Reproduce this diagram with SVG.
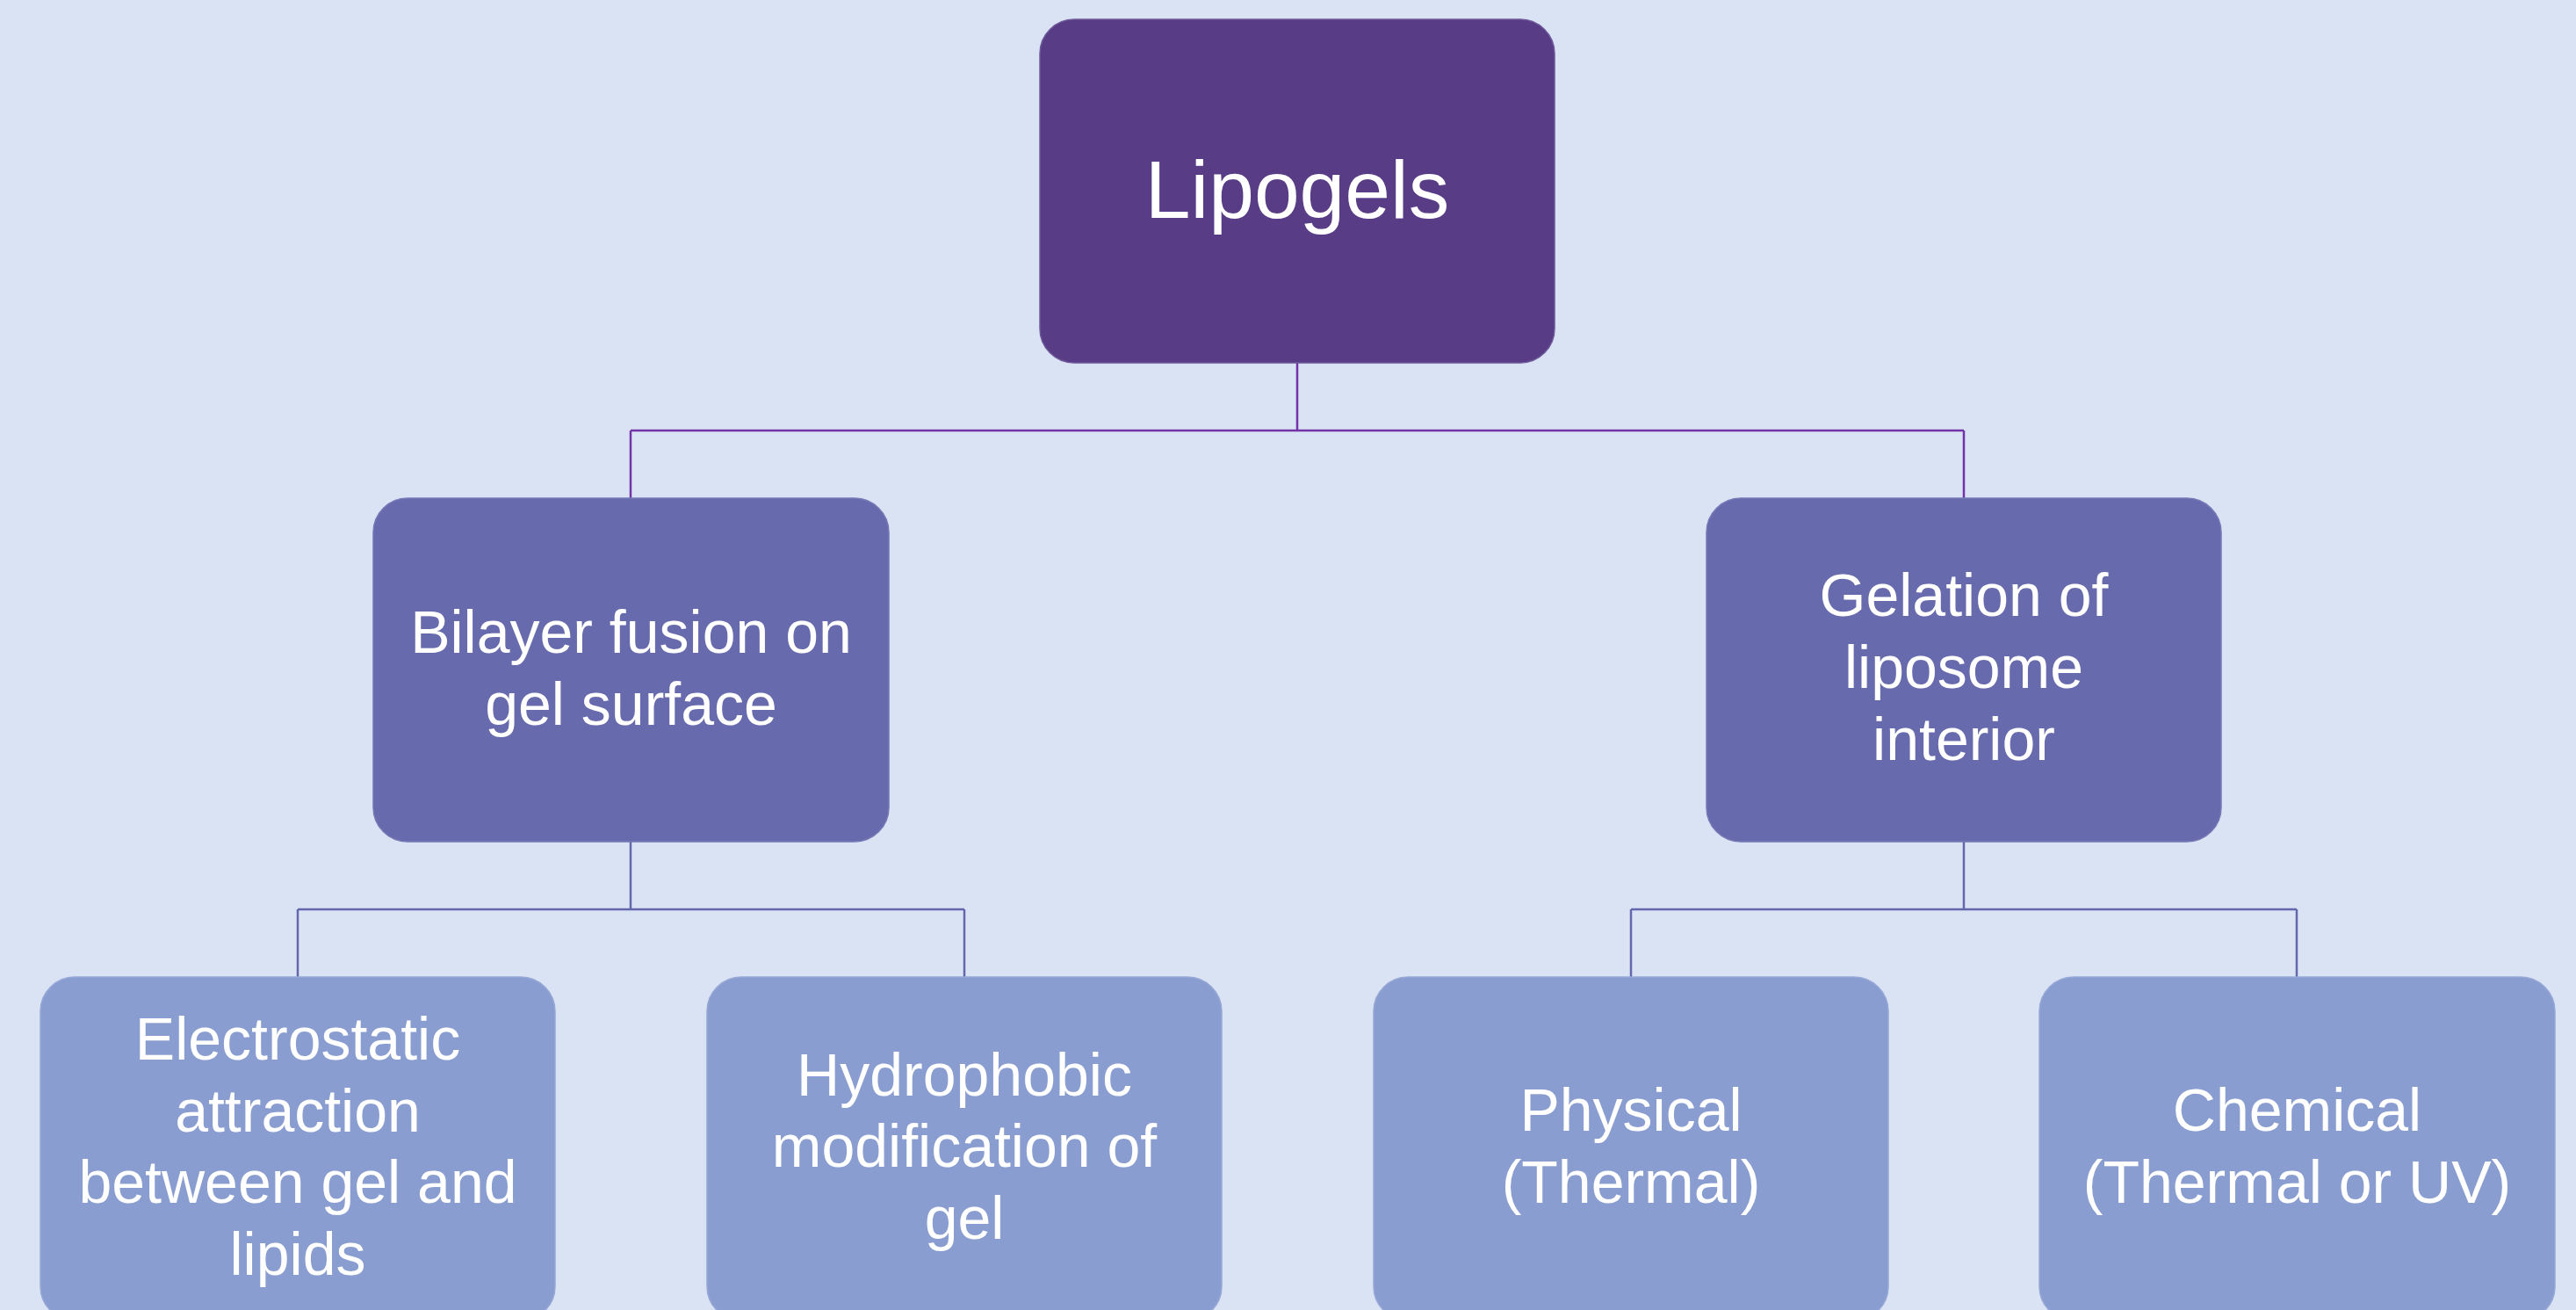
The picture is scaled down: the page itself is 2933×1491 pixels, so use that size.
<svg xmlns="http://www.w3.org/2000/svg" width="2933" height="1491" viewBox="0 0 2933 1491">
<style>
.bg{fill:#DAE3F3}
.n1{fill:#583C86;stroke:#6E5A9A;stroke-width:1.5}
.n2{fill:#676AAC;stroke:#7679B6;stroke-width:1.5}
.n3{fill:#8A9DD0;stroke:#97A8D6;stroke-width:1.5}
text{font-family:"Liberation Sans",Arial,sans-serif;fill:#FFFFFF;text-anchor:middle}
.t1{font-size:93px}
.t2{font-size:68px}
.c1{fill:none;stroke:#7434A8;stroke-width:2.5}
.c2{fill:none;stroke:#6367AC;stroke-width:2.5}
</style>
<rect class="bg" x="0" y="0" width="2933" height="1491"/>
<g id="connectors">
<path class="c1" d="M1477,413 V490 M718,490 H2236 M718,490 V567 M2236,490 V567"/>
<path class="c2" d="M718,958 V1035 M339,1035 H1098 M339,1035 V1112 M1098,1035 V1112"/>
<path class="c2" d="M2236,958 V1035 M1857,1035 H2615 M1857,1035 V1112 M2615,1035 V1112"/>
</g>
<g id="lipogels">
<rect class="n1" x="1184" y="22" width="586" height="391" rx="39" ry="39"/>
<text class="t1" x="1477" y="248">Lipogels</text>
</g>
<g id="bilayer-fusion">
<rect class="n2" x="425" y="567" width="587" height="391" rx="39" ry="39"/>
<text class="t2" x="718.5" y="743">Bilayer fusion on</text>
<text class="t2" x="718.5" y="825">gel surface</text>
</g>
<g id="gelation-interior">
<rect class="n2" x="1943" y="567" width="586" height="391" rx="39" ry="39"/>
<text class="t2" x="2236" y="701">Gelation of</text>
<text class="t2" x="2236" y="783">liposome</text>
<text class="t2" x="2236" y="865">interior</text>
</g>
<g id="electrostatic">
<rect class="n3" x="46" y="1112" width="586" height="391" rx="39" ry="39"/>
<text class="t2" x="339" y="1206">Electrostatic</text>
<text class="t2" x="339" y="1288">attraction</text>
<text class="t2" x="339" y="1369">between gel and</text>
<text class="t2" x="339" y="1451">lipids</text>
</g>
<g id="hydrophobic">
<rect class="n3" x="805" y="1112" width="586" height="391" rx="39" ry="39"/>
<text class="t2" x="1098" y="1247">Hydrophobic</text>
<text class="t2" x="1098" y="1328">modification of</text>
<text class="t2" x="1098" y="1410">gel</text>
</g>
<g id="physical">
<rect class="n3" x="1564" y="1112" width="586" height="391" rx="39" ry="39"/>
<text class="t2" x="1857" y="1287">Physical</text>
<text class="t2" x="1857" y="1369">(Thermal)</text>
</g>
<g id="chemical">
<rect class="n3" x="2322" y="1112" width="587" height="391" rx="39" ry="39"/>
<text class="t2" x="2615.5" y="1287">Chemical</text>
<text class="t2" x="2615.5" y="1369">(Thermal or UV)</text>
</g>
</svg>
